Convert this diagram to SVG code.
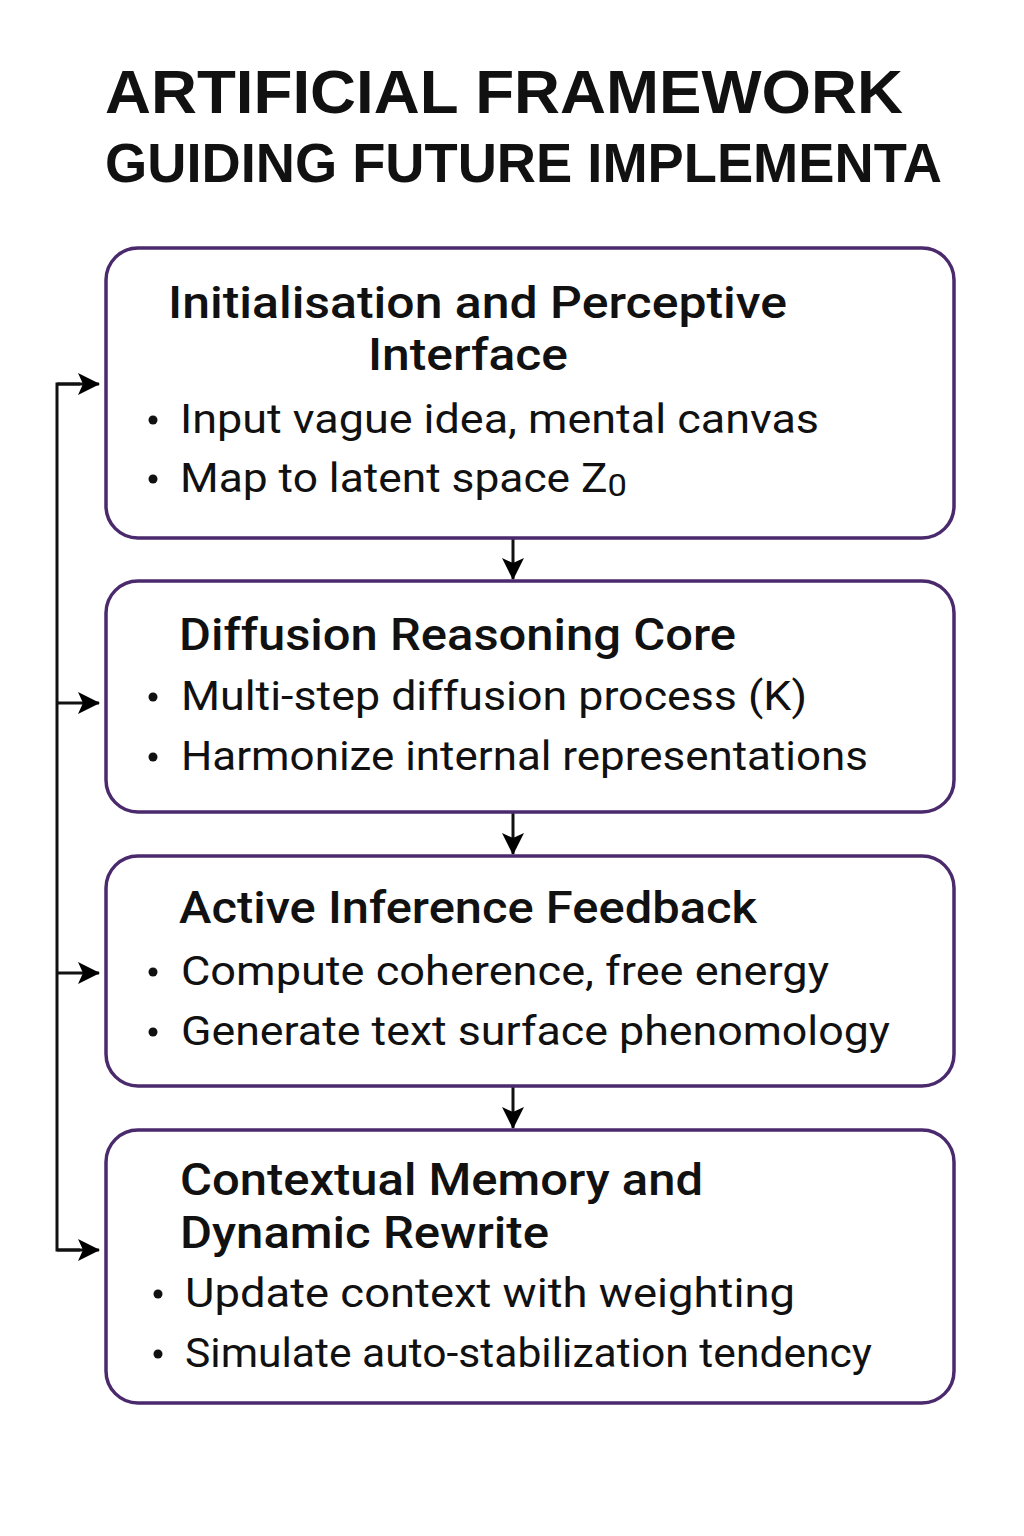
<svg xmlns="http://www.w3.org/2000/svg" width="1024" height="1536" viewBox="0 0 1024 1536">
<defs>
<marker id="ah" markerWidth="22" markerHeight="22" refX="21" refY="11" orient="auto" markerUnits="userSpaceOnUse" viewBox="0 0 22 22">
<path d="M0,0 L22,11 L0,22 L5,11 Z" fill="#000"/>
</marker>
<style>
.box{fill:#fff;stroke:#4a2a6c;stroke-width:3.5}
.t{font-family:Roboto,"Liberation Sans",sans-serif;fill:#111}
.title{font-family:"Liberation Sans",Arial,sans-serif;font-weight:700}
.h{font-size:44px;font-weight:500}
.b{font-size:41px;font-weight:400}
.dot{fill:#111}
.c{fill:none;stroke:#111;stroke-width:3}
</style>
</defs>
<rect width="1024" height="1536" fill="#fff"/>
<g id="title">
<text class="t title" x="105" y="113" font-size="62" textLength="798" lengthAdjust="spacingAndGlyphs">ARTIFICIAL FRAMEWORK</text>
<text class="t title" x="105" y="182" font-size="56" textLength="837" lengthAdjust="spacingAndGlyphs">GUIDING FUTURE IMPLEMENTA</text>
</g>
<g id="connectors">
<path class="c" d="M80,384 H57 V1250 H80"/>
<path class="c" d="M57,384 H99" marker-end="url(#ah)"/>
<path class="c" d="M57,703 H99" marker-end="url(#ah)"/>
<path class="c" d="M57,973 H99" marker-end="url(#ah)"/>
<path class="c" d="M57,1250 H99" marker-end="url(#ah)"/>
<path class="c" d="M513,538 V579" marker-end="url(#ah)"/>
<path class="c" d="M513,812 V854" marker-end="url(#ah)"/>
<path class="c" d="M513,1086 V1128" marker-end="url(#ah)"/>
</g>
<g id="n1">
<rect class="box" x="106" y="248" width="848" height="290" rx="32"/>
<text class="t h" x="168" y="318" textLength="619" lengthAdjust="spacingAndGlyphs">Initialisation and Perceptive</text>
<text class="t h" x="368" y="370" textLength="200" lengthAdjust="spacingAndGlyphs">Interface</text>
<circle class="dot" cx="153" cy="420" r="4.5"/>
<text class="t b" x="180" y="433" textLength="639" lengthAdjust="spacingAndGlyphs">Input vague idea, mental canvas</text>
<circle class="dot" cx="153" cy="479" r="4.5"/>
<text class="t b" x="180" y="492" textLength="447" lengthAdjust="spacingAndGlyphs">Map to latent space Z<tspan font-size="32" dy="4">0</tspan></text>
</g>
<g id="n2">
<rect class="box" x="106" y="581" width="848" height="231" rx="32"/>
<text class="t h" x="179" y="650" textLength="557" lengthAdjust="spacingAndGlyphs">Diffusion Reasoning Core</text>
<circle class="dot" cx="153" cy="697" r="4.5"/>
<text class="t b" x="181" y="710" textLength="626" lengthAdjust="spacingAndGlyphs">Multi-step diffusion process (K)</text>
<circle class="dot" cx="153" cy="757" r="4.5"/>
<text class="t b" x="181" y="770" textLength="687" lengthAdjust="spacingAndGlyphs">Harmonize internal representations</text>
</g>
<g id="n3">
<rect class="box" x="106" y="856" width="848" height="230" rx="32"/>
<text class="t h" x="179" y="923" textLength="578" lengthAdjust="spacingAndGlyphs">Active Inference Feedback</text>
<circle class="dot" cx="153" cy="972" r="4.5"/>
<text class="t b" x="181" y="985" textLength="648" lengthAdjust="spacingAndGlyphs">Compute coherence, free energy</text>
<circle class="dot" cx="153" cy="1032" r="4.5"/>
<text class="t b" x="181" y="1045" textLength="709" lengthAdjust="spacingAndGlyphs">Generate text surface phenomology</text>
</g>
<g id="n4">
<rect class="box" x="106" y="1130" width="848" height="273" rx="32"/>
<text class="t h" x="180" y="1195" textLength="523" lengthAdjust="spacingAndGlyphs">Contextual Memory and</text>
<text class="t h" x="180" y="1248" textLength="369" lengthAdjust="spacingAndGlyphs">Dynamic Rewrite</text>
<circle class="dot" cx="158" cy="1294" r="4.5"/>
<text class="t b" x="185" y="1307" textLength="610" lengthAdjust="spacingAndGlyphs">Update context with weighting</text>
<circle class="dot" cx="158" cy="1354" r="4.5"/>
<text class="t b" x="185" y="1367" textLength="687" lengthAdjust="spacingAndGlyphs">Simulate auto-stabilization tendency</text>
</g>
</svg>
